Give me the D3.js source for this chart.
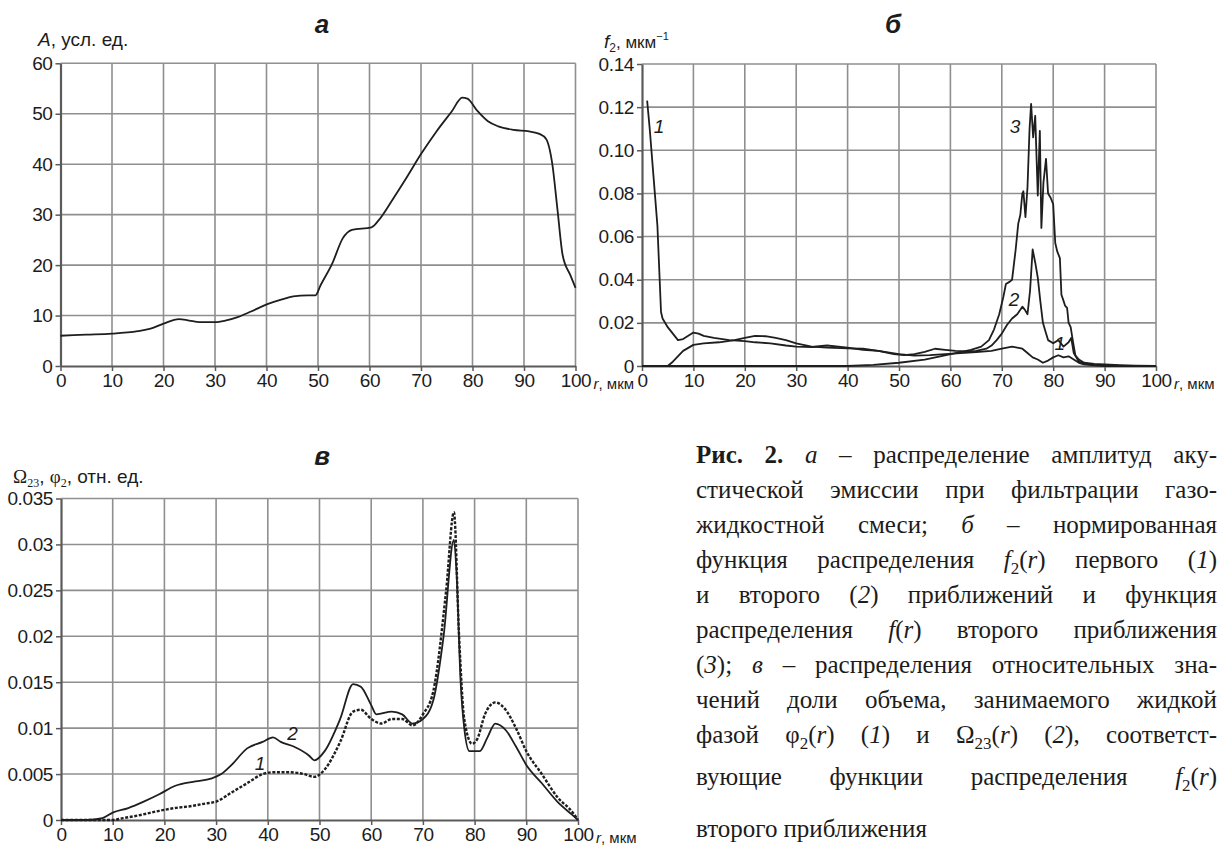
<!DOCTYPE html>
<html>
<head>
<meta charset="utf-8">
<script src="https://cdn.jsdelivr.net/npm/d3@7"></script>
<style>
  body { margin:0; background:#fff; }
  svg text { font-family: "Liberation Sans", Arial, sans-serif; fill:#1c1c1c; }
</style>
</head>
<body>
<svg id="chart" width="1222" height="845"></svg>
<script>
// x axis is shared by all three panels
let rTicks = [0,10,20,30,40,50,60,70,80,90,100]

// panel а - amplitude of acoustic emission
let aTicks = [0,10,20,30,40,50,60]
let aR = [0,5,10,15,17.5,20,23,25,27,30,32,34.4,37,40.3,43,45.2,48,49.5,50.5,52.8,54.8,56.6,60.4,61.8,64.5,67,70,73,76,78,79,81,83,85,88,91,93,94.3,95.5,96.5,97.5,99,100]
let aA = [6.0,6.2,6.4,6.9,7.4,8.4,9.3,9.0,8.7,8.7,9.0,9.7,10.8,12.3,13.2,13.8,14.0,14.0,16.0,20.4,25.3,27.0,27.5,28.9,33.0,37.0,42.0,46.5,50.5,53.2,53.0,50.5,48.5,47.5,46.8,46.5,46.0,45.0,40.0,31.0,22.0,18.0,15.5]

// panel б - distribution functions
let bTicks = [0,0.02,0.04,0.06,0.08,0.10,0.12,0.14]
let b1R = [1,1.5,2.5,3,3.7,4,5,6,7,8,9,10,11,12,14,17,20,22,25,28,30,33,36,40,43,46,50,53,56,59,62,65,68,70,71,72,73,74,75,76,77,78,79,80,81,82,83,84,85,86,88,90,100]
let b1V = [0.123,0.11,0.08,0.065,0.025,0.022,0.018,0.015,0.012,0.0125,0.014,0.0155,0.015,0.014,0.013,0.012,0.0115,0.011,0.0105,0.0095,0.009,0.0088,0.0095,0.0085,0.0075,0.007,0.0055,0.0048,0.005,0.0055,0.006,0.0065,0.007,0.008,0.0085,0.009,0.0085,0.008,0.006,0.004,0.003,0.0015,0.0025,0.004,0.005,0.004,0.0045,0.003,0.0015,0.0008,0.0003,0,0]
let b2R = [0,5,6,8,10,12,15,18,20,22,24,26,28,30,33,36,40,43,46,49,51,53,55,57,59,61,63,65,67,68,69,70,71,72,73,74,74.5,75,75.5,76,76.5,77,77.5,78,78.5,79,80,81,82,83,83.5,84,85,86,88,90,95,100]
let b2V = [0,0,0.002,0.007,0.0098,0.0105,0.011,0.012,0.013,0.014,0.0138,0.013,0.012,0.0105,0.009,0.0085,0.0082,0.008,0.007,0.0055,0.005,0.0055,0.0065,0.008,0.0075,0.007,0.0068,0.007,0.008,0.0095,0.012,0.015,0.019,0.022,0.024,0.0275,0.026,0.024,0.035,0.054,0.048,0.041,0.03,0.02,0.016,0.012,0.0105,0.012,0.009,0.011,0.013,0.006,0.002,0.001,0.0005,0.0002,0,0]
let b3R = [0,40,45,50,55,58,61,64,66,67.5,68.5,69.5,70.3,70.8,71.5,72.0,72.7,73.2,73.6,74.0,74.2,74.6,75.0,75.4,75.7,76.1,76.5,77.0,77.4,77.7,78.1,78.6,79.0,79.5,80.0,80.4,80.8,81.3,81.6,81.9,82.3,82.7,83.0,83.4,83.8,84.3,85,86,88,90,93,96,100]
let b3V = [0,0,0.0005,0.0015,0.003,0.0045,0.006,0.0075,0.009,0.012,0.017,0.024,0.032,0.038,0.039,0.040,0.054,0.066,0.070,0.080,0.081,0.069,0.083,0.11,0.1215,0.106,0.116,0.079,0.109,0.064,0.085,0.096,0.08,0.078,0.075,0.057,0.053,0.05,0.033,0.031,0.028,0.027,0.02,0.018,0.012,0.005,0.003,0.0015,0.001,0.0007,0.0004,0.0002,0]

// panel в - volume fractions (1 = phi2 dashed, 2 = Omega23 solid)
let cTicks = [0,0.005,0.01,0.015,0.02,0.025,0.03,0.035]
let c2R = [0,5,8,10,13,16,19,22,26,29,31,33,36,39,41,42.5,45,48,49,51,54,56.5,58,60,61,64,66,68,70,72,74,76,76.5,77.3,78,79,81,82.5,84,86,88,90,93,96,99,100]
let c2V = [0,0,0.0002,0.0008,0.0013,0.002,0.0028,0.0037,0.0042,0.0045,0.005,0.006,0.0078,0.0085,0.009,0.0085,0.008,0.007,0.0065,0.0075,0.011,0.0148,0.0145,0.0125,0.0115,0.0118,0.0115,0.0105,0.011,0.013,0.02,0.0305,0.027,0.015,0.01,0.0075,0.0075,0.009,0.0105,0.0098,0.008,0.006,0.004,0.002,0.0005,0]
let c1R = [0,10,12,15,19,22,25,28,30,33,36,39,41,44,47,49,51,54,56.5,58,60,62,64,66,68,70,72,74.5,76,77,78,79.5,80.5,82,84,86,88,90,93,96,99,100]
let c1V = [0,0,0.0002,0.0005,0.001,0.0013,0.0015,0.0018,0.002,0.003,0.004,0.005,0.0052,0.0052,0.005,0.0047,0.0055,0.0085,0.0118,0.012,0.011,0.0105,0.011,0.011,0.0103,0.0115,0.014,0.025,0.0335,0.02,0.011,0.0083,0.0088,0.0115,0.0128,0.012,0.01,0.0075,0.005,0.0025,0.0008,0]

// caption lines: ^ toggles italic, ~ toggles subscript, # toggles bold
let caption = [
  '#Рис.# #2.# ^а^ – распределение амплитуд аку-',
  'стической эмиссии при фильтрации газо-',
  'жидкостной смеси; ^б^ – нормированная',
  'функция распределения ^f^~2~(^r^) первого (^1^)',
  'и второго (^2^) приближений и функция',
  'распределения ^f^(^r^) второго приближения',
  '(^3^); ^в^ – распределения относительных зна-',
  'чений доли объема, занимаемого жидкой',
  'фазой φ~2~(^r^) (^1^) и Ω~23~(^r^) (^2^), соответст-',
  'вующие функции распределения ^f^~2~(^r^)',
  'второго приближения'
]

let svg = d3.select('#chart')
let gridColor = '#8f8f8f'
let axisColor = '#5a5a5a'
let lineColor = '#1e1e1e'

// draws grid + axes for one panel, returns the scales
function drawPanel(p) {
  let x = d3.scaleLinear().domain([0,100]).range([p.left, p.right])
  let y = d3.scaleLinear().domain([0, p.ymax]).range([p.bottom, p.top])
  let g = svg.append('g')

  g.selectAll('.vg').data(rTicks.slice(1)).enter().append('line')
    .attr('x1', d => x(d)).attr('x2', d => x(d))
    .attr('y1', p.top).attr('y2', p.bottom)
    .attr('stroke', gridColor).attr('stroke-width', 1.6)
  g.selectAll('.hg').data(p.yTicks.slice(1)).enter().append('line')
    .attr('x1', p.left).attr('x2', p.right)
    .attr('y1', d => y(d)).attr('y2', d => y(d))
    .attr('stroke', gridColor).attr('stroke-width', 1.6)

  let xa = g.append('g').attr('transform', 'translate(0,' + p.bottom + ')')
    .call(d3.axisBottom(x).tickValues(rTicks).tickSize(5).tickPadding(3).tickSizeOuter(0))
  let ya = g.append('g').attr('transform', 'translate(' + p.left + ',0)')
    .call(d3.axisLeft(y).tickValues(p.yTicks).tickFormat(p.fmt).tickSize(5).tickPadding(3).tickSizeOuter(0))
  ;[xa, ya].forEach(function(a) {
    a.select('.domain').attr('stroke', axisColor).attr('stroke-width', 2.2)
    a.selectAll('.tick line').attr('stroke', axisColor).attr('stroke-width', 1.5)
    a.selectAll('.tick text').style('font-size', '19px').style('letter-spacing', '-0.4px').attr('fill', '#1c1c1c')
  })

  // r, мкм after the last tick label
  let t = g.append('text').attr('x', x(100) + 18).attr('y', p.bottom + 23).style('font-size', '15px')
  t.append('tspan').style('font-style', 'italic').text('r')
  t.append('tspan').text(', мкм')

  // panel letter
  g.append('text').attr('x', p.titleX).attr('y', p.titleY).attr('text-anchor', 'middle')
    .style('font-size', '26px').style('font-weight', 'bold').style('font-style', 'italic')
    .text(p.title)

  return {x: x, y: y, g: g}
}

function drawLine(s, rs, vs, curve, dashed) {
  let pts = rs.map((r, i) => [r, vs[i]])
  let line = d3.line().x(d => s.x(d[0])).y(d => s.y(d[1])).curve(curve)
  s.g.append('path').datum(pts).attr('d', line)
    .attr('fill', 'none').attr('stroke', lineColor)
    .attr('stroke-width', dashed ? 2.4 : 1.8)
    .attr('stroke-dasharray', dashed ? '3,1.6' : null)
    .attr('stroke-linejoin', 'round')
}

function curveLabel(s, r, v, txt) {
  s.g.append('text').attr('x', s.x(r)).attr('y', s.y(v)).attr('text-anchor', 'middle')
    .attr('dy', '0.35em').style('font-size', '19px').style('font-style', 'italic').text(txt)
}

// ---- panel а
let pa = drawPanel({left: 60.5, right: 575.5, top: 63.3, bottom: 366, ymax: 60, yTicks: aTicks,
  fmt: d3.format('d'), title: 'а', titleX: 322, titleY: 33})
drawLine(pa, aR, aA, d3.curveMonotoneX)
let la = svg.append('text').attr('x', 38).attr('y', 46).style('font-size', '19px')
la.append('tspan').style('font-style', 'italic').text('A')
la.append('tspan').text(', усл. ед.')

// ---- panel б
let pb = drawPanel({left: 642, right: 1156, top: 64, bottom: 366, ymax: 0.14, yTicks: bTicks,
  fmt: d => d === 0 ? '0' : d.toFixed(2), title: 'б', titleX: 893, titleY: 33})
drawLine(pb, b3R, b3V, d3.curveLinear)
drawLine(pb, b2R, b2V, d3.curveLinear)
drawLine(pb, b1R, b1V, d3.curveLinear)
curveLabel(pb, 3.3, 0.111, '1')
curveLabel(pb, 72.6, 0.111, '3')
curveLabel(pb, 72.4, 0.031, '2')
curveLabel(pb, 81.3, 0.0105, '1')
let lb = svg.append('text').attr('x', 604).attr('y', 48).style('font-size', '17px')
lb.append('tspan').style('font-style', 'italic').style('font-size', '19px').text('f')
lb.append('tspan').attr('dy', 4).style('font-size', '12px').text('2')
lb.append('tspan').attr('dy', -4).text(', мкм')
lb.append('tspan').attr('dy', -8).style('font-size', '11px').text('−1')

// ---- panel в
let pc = drawPanel({left: 61, right: 578, top: 498.5, bottom: 820, ymax: 0.035, yTicks: cTicks,
  fmt: d => d === 0 ? '0' : String(+d.toFixed(3)), title: 'в', titleX: 322, titleY: 465})
drawLine(pc, c1R, c1V, d3.curveMonotoneX, true)
drawLine(pc, c2R, c2V, d3.curveMonotoneX)
curveLabel(pc, 38.5, 0.0062, '1')
curveLabel(pc, 44.8, 0.0094, '2')
let lc = svg.append('text').attr('x', 13).attr('y', 483).style('font-size', '19px')
lc.append('tspan').style('font-family', 'Liberation Serif, serif').text('Ω')
lc.append('tspan').attr('dy', 4).style('font-family', 'Liberation Serif, serif').style('font-size', '12px').text('23')
lc.append('tspan').attr('dy', -4).text(', ')
lc.append('tspan').style('font-family', 'Liberation Serif, serif').text('φ')
lc.append('tspan').attr('dy', 4).style('font-family', 'Liberation Serif, serif').style('font-size', '12px').text('2')
lc.append('tspan').attr('dy', -4).text(', отн. ед.')

// ---- caption, justified between capL and capR
let capL = 696, capR = 1217
let capY = [463, 498, 533, 568, 603, 638, 673, 708, 743, 785, 837]

function wordText(g, word) {
  let t = g.append('text').style('font-family', 'Liberation Serif, serif').style('font-size', '25px')
  let ital = false, sub = false, bold = false, buf = '', shift = 0
  function flush() {
    if (!buf) return
    let ts = t.append('tspan').text(buf)
    if (ital) ts.style('font-style', 'italic')
    if (bold) ts.style('font-weight', 'bold')
    let want = sub ? 6 : 0
    if (want !== shift) { ts.attr('dy', want - shift); shift = want }
    if (sub) ts.style('font-size', '17px')
    buf = ''
  }
  for (let c of word) {
    if (c === '^') { flush(); ital = !ital }
    else if (c === '~') { flush(); sub = !sub }
    else if (c === '#') { flush(); bold = !bold }
    else buf += c
  }
  flush()
  return t
}

caption.forEach(function(line, i) {
  let g = svg.append('g')
  let words = line.split(' ').map(w => wordText(g, w))
  let widths = words.map(t => t.node().getComputedTextLength())
  let total = d3.sum(widths)
  let last = i === caption.length - 1
  let gap = last ? 6 : (capR - capL - total) / (words.length - 1)
  let xx = capL
  words.forEach(function(t, k) {
    t.attr('x', xx).attr('y', capY[i])
    xx += widths[k] + gap
  })
})
</script>
</body>
</html>
